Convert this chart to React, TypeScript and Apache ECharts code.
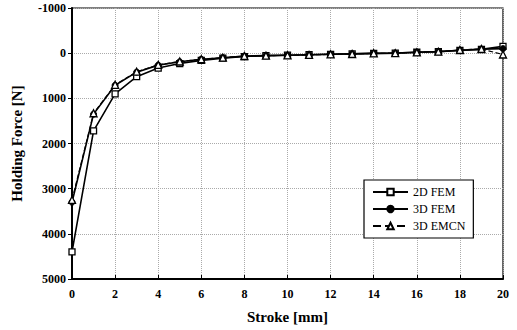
import React, { useEffect, useRef } from "react";
import * as echarts from "echarts";

const stroke = [0, 1, 2, 3, 4, 5, 6, 7, 8, 9, 10, 11, 12, 13, 14, 15, 16, 17, 18, 19, 20];
const fem2d = [4400, 1720, 900, 520, 330, 230, 160, 110, 75, 55, 45, 35, 25, 15, 5, 0, -20, -35, -60, -85, -150];
const fem3d = [3300, 1350, 710, 420, 265, 190, 135, 100, 65, 55, 45, 35, 25, 15, 5, 0, -20, -35, -65, -90, -100];
const emcn3d = [3250, 1330, 700, 410, 260, 185, 135, 100, 63, 55, 48, 40, 25, 18, 3, 0, -18, -33, -70, -92, 30];
const seriesNames = ["2D FEM", "3D FEM", "3D EMCN"];

const FONT = "'Liberation Serif', 'Times New Roman', serif";

export default function App() {
  const ref = useRef<HTMLDivElement>(null);
  useEffect(() => {
    if (!ref.current) return;
    const chart = echarts.init(ref.current, undefined, { renderer: "svg" });
    const pts = (arr: number[]) => stroke.map((x, i) => [x, arr[i]]);
    const base = {
      type: "line" as const,
      symbolSize: 6,
      lineStyle: { color: "#000", width: 1.6 },
      itemStyle: { color: "#fff", borderColor: "#000", borderWidth: 1.3 },
    };
    chart.setOption({
      animation: false,
      backgroundColor: "#fff",
      grid: {
        left: 72,
        right: 14,
        top: 8,
        bottom: 51,
        show: true,
        borderColor: "#000",
        borderWidth: 1.2,
      },
      legend: {
        left: 364,
        top: 180,
        orient: "vertical",
        data: seriesNames,
        itemWidth: 35,
        itemHeight: 8,
        itemGap: 5,
        padding: [6, 8, 6, 8],
        borderColor: "#000",
        borderWidth: 1.2,
        backgroundColor: "#fff",
        textStyle: { fontFamily: FONT, fontSize: 12, color: "#000" },
      },
      xAxis: {
        type: "value",
        min: 0,
        max: 20,
        interval: 2,
        name: "Stroke [mm]",
        nameLocation: "middle",
        nameGap: 30,
        nameTextStyle: { fontFamily: FONT, fontSize: 15, fontWeight: "bold", color: "#000" },
        axisLine: { onZero: false, lineStyle: { color: "#000", width: 2 } },
        axisTick: { inside: true, length: 4, lineStyle: { color: "#000" } },
        axisLabel: {
          fontFamily: FONT,
          fontSize: 12,
          fontWeight: "bold",
          color: "#000",
          margin: 9,
          formatter: (v: number) => String(v),
        },
        splitLine: { show: true, lineStyle: { color: "#aaa", type: "dotted", width: 1 } },
      },
      yAxis: {
        type: "value",
        inverse: true,
        min: -1000,
        max: 5000,
        interval: 1000,
        name: "Holding Force [N]",
        nameLocation: "middle",
        nameGap: 48,
        nameTextStyle: { fontFamily: FONT, fontSize: 15, fontWeight: "bold", color: "#000" },
        axisLine: { show: true, onZero: false, lineStyle: { color: "#000", width: 2 } },
        axisTick: { show: true, inside: false, length: 4, lineStyle: { color: "#000" } },
        axisLabel: {
          fontFamily: FONT,
          fontSize: 12,
          fontWeight: "bold",
          color: "#000",
          margin: 6,
          formatter: (v: number) => String(v),
        },
        splitLine: { show: true, lineStyle: { color: "#aaa", type: "dotted", width: 1 } },
      },
      series: [
        { ...base, name: seriesNames[0], symbol: "rect", data: pts(fem2d) },
        {
          ...base,
          name: seriesNames[1],
          symbol: "circle",
          itemStyle: { color: "#000", borderColor: "#000", borderWidth: 1 },
          data: pts(fem3d),
        },
        {
          ...base,
          name: seriesNames[2],
          symbol: "triangle",
          symbolSize: 7,
          lineStyle: { color: "#000", width: 1.2, type: "dashed" },
          data: pts(emcn3d),
        },
      ],
    });
    return () => chart.dispose();
  }, []);
  return <div ref={ref} style={{ width: 517, height: 330, position: "absolute", left: 0, top: 0 }} />;
}
